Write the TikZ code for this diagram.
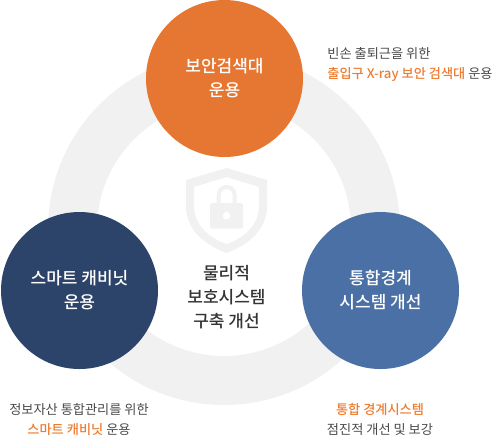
\documentclass[tikz,border=0pt]{standalone}
\usepackage{fontspec}
\setmainfont{Noto Sans CJK KR}[BoldFont={Noto Sans CJK KR Medium}]
\definecolor{ringgray}{HTML}{F1F1F1}
\definecolor{orangeA}{HTML}{E67732}
\definecolor{navyA}{HTML}{2C4469}
\definecolor{blueA}{HTML}{4A70A6}
\definecolor{txt}{HTML}{4A4A4A}
\definecolor{hl}{HTML}{EE7C30}
\tikzset{
  x=1pt,y=-1pt,
  bubble/.style={circle,minimum size=157pt,inner sep=0pt,text=white,align=center,font=\bfseries\fontsize{17}{24}\selectfont},
  caption/.style={align=center,text=txt,inner sep=0pt,font=\fontsize{13.2}{20}\selectfont},
  centertext/.style={align=center,text=txt!70!black,inner sep=0pt,font=\bfseries\fontsize{17}{24}\selectfont},
}
\newcommand{\hlt}[1]{\textcolor{hl}{\bfseries #1}}
\begin{document}
\begin{tikzpicture}
\useasboundingbox (0,0) rectangle (495,445);
\fill[ringgray,even odd rule] (224,229) circle (176) (224,229) circle (127);
% shield
\fill[ringgray,even odd rule]
 (226.5,168) -- (267,180) -- (267,206) .. controls (267,230) and (248,245) .. (226.5,253)
 .. controls (205,245) and (186,230) .. (186,206) -- (186,180) -- cycle
 (226.5,177) -- (194,187) -- (194,206) .. controls (194,225) and (209,238) .. (226.5,244)
 .. controls (244,238) and (259,225) .. (259,206) -- (259,187) -- cycle;
\fill[ringgray,rounded corners=1.5] (210,203) rectangle (243,228.5);
\draw[ringgray,line width=4] (218.7,204) -- (218.7,195) arc[start angle=180,end angle=360,radius=8] -- (234.7,204);
\fill[white] (226.5,215.7) circle (3.8);
\node[bubble,fill=orangeA] (a) at (224.5,78.5) {보안검색대\\운용};
\node[bubble,fill=navyA] (b) at (79.5,290.5) {스마트 캐비닛\\운용};
\node[bubble,fill=blueA] (c) at (380.5,290.5) {통합경계\\시스템 개선};
\node[centertext] (m) at (226.5,297) {물리적\\보호시스템\\구축 개선};
\node[caption,align=left] (d) at (410,65) {빈손 출퇴근을 위한\\\hlt{출입구 X-ray 보안 검색대} 운용};
\node[caption] (e) at (79,419.5) {정보자산 통합관리를 위한\\\hlt{스마트 캐비닛} 운용};
\node[caption] (f) at (380,419.5) {\hlt{통합 경계시스템}\\점진적 개선 및 보강};
\end{tikzpicture}
\end{document}
